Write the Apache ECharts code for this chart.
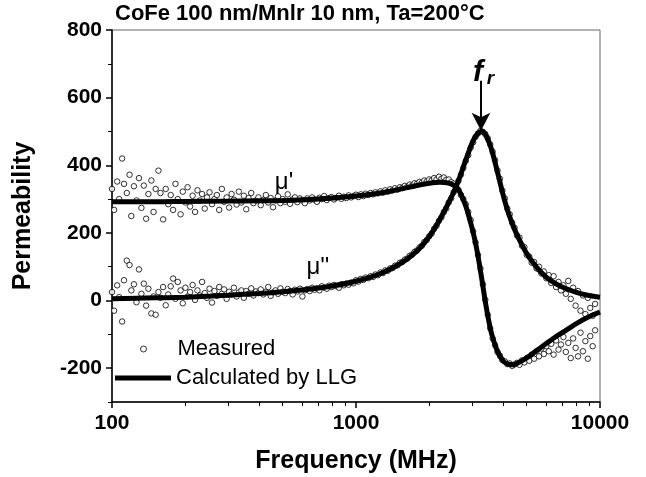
<!DOCTYPE html>
<html><head><meta charset="utf-8">
<script src="https://cdn.jsdelivr.net/npm/echarts@6/dist/echarts.min.js"></script>
<style>html,body{margin:0;padding:0;background:#fff}#c{width:646px;height:477px}</style>
</head><body><div id="c"></div>
<script>
// Measured frequencies (MHz)
const freq = [100,102,105,107,110,112,115,118,120,123,126,129,132,135,138,141,145,148,151,155,
158,162,166,170,174,178,182,186,191,195,200,204,209,214,219,224,229,234,240,245,
251,257,263,269,275,282,288,295,302,309,316,324,331,339,347,355,363,372,380,389,
398,407,417,427,437,447,457,468,479,490,501,513,525,537,550,562,575,589,603,617,
631,646,661,676,692,708,724,741,759,776,794,813,832,851,871,891,912,933,955,977,
1000,1023,1047,1072,1096,1122,1148,1175,1202,1230,1259,1288,1318,1349,1380,1413,1445,1479,1514,1549,
1585,1622,1660,1698,1738,1778,1820,1862,1905,1950,1995,2042,2089,2138,2188,2239,2291,2344,2399,2455,
2512,2570,2630,2692,2754,2818,2884,2951,3020,3090,3162,3236,3311,3388,3467,3548,3631,3715,3802,3890,
3981,4074,4169,4266,4365,4467,4571,4677,4786,4898,5012,5129,5248,5370,5495,5623,5754,5888,6026,6166,
6310,6457,6607,6761,6918,7079,7244,7413,7586,7762,7943,8128,8318,8511,8710,8913,9120,9333,9550];
// Measured mu'
const muPrimeMeasured = [330,268,352,300,420,345,318,372,250,338,
296,362,274,340,242,315,355,262,330,384,
318,240,330,285,312,268,345,300,255,322,
290,335,278,310,262,326,296,315,272,305,
320,285,300,312,268,330,292,305,275,315,
298,284,322,290,310,270,303,318,288,296,
305,282,298,312,290,303,276,296,308,288,
300,292,314,286,299,305,291,302,296,288,
302,296,305,298,292,304,300,309,297,303,
306,299,304,310,301,307,303,311,305,309,
313,306,314,309,316,312,318,314,320,317,
323,319,326,322,329,326,332,328,335,333,
339,336,343,340,347,345,351,348,355,352,
358,355,362,358,366,360,364,357,358,350,
346,336,327,312,300,285,262,238,205,172,
135,95,48,2,-42,-82,-112,-132,-152,-163,
-176,-180,-188,-186,-193,-189,-184,-190,-177,-183,
-170,-178,-160,-172,-150,-165,-142,-158,-135,-150,
-128,-160,-118,-145,-130,-108,-152,-125,-170,-112,
-140,-165,-95,-150,-120,-172,-105,-135,-88];
// Measured mu''
const muDoublePrimeMeasured = [25,-30,45,10,-62,60,118,105,30,48,
-5,92,20,50,-15,35,-38,12,-42,25,
8,40,-14,18,42,65,5,55,30,-8,
38,12,25,46,2,30,15,55,22,8,
35,-6,28,14,40,20,33,5,26,18,
38,12,24,30,8,28,20,36,15,27,
22,33,18,26,40,14,24,30,20,36,
26,22,34,28,18,32,27,35,12,30,
34,28,38,32,36,30,42,38,35,44,
40,46,42,38,48,45,50,47,53,51,
60,56,64,61,68,66,72,70,77,75,
83,81,89,88,95,96,103,104,112,114,
121,124,132,136,144,148,157,162,173,179,
190,198,212,221,236,246,262,272,290,302,
320,334,354,372,392,413,430,452,468,484,
494,502,499,492,480,462,440,415,385,360,
325,302,272,255,230,215,192,186,162,158,
135,130,112,114,95,100,80,86,66,75,
52,72,40,55,30,45,20,58,5,38,
-15,28,-30,15,-40,8,-22,-45,-10];
// LLG calculated curves
const calcFreq = [100,150,200,300,400,500,600,700,800,1000,1200,1400,1600,1800,2000,2200,2400,2600,2800,3000,
3100,3200,3300,3400,3500,3600,3800,4000,4200,4400,4600,5000,5500,6000,6500,7000,8000,9000,10000];
const muPrimeCalc = [292,292,293,294,295,296,298,300,303,309,316,324,333,341,347,350,347,333,285,210,
165,110,50,-10,-60,-100,-150,-178,-188,-190,-185,-170,-148,-128,-110,-95,-68,-48,-34];
const muDoublePrimeCalc = [5,8,10,16,21,26,31,37,43,57,74,95,120,150,190,238,290,345,410,468,
487,498,500,490,470,445,380,315,262,222,190,140,98,70,52,40,24,15,10];
// Axis ticks
const yTickLabels = [-200,0,200,400,600,800];
const yMinorTicks = [-300,-100,100,300,500,700];

const FONT = '"Liberation Sans", Arial, Helvetica, sans-serif';
const zip = (xs, ys) => xs.map((x, i) => [x, ys[i]]);
const chart = echarts.init(document.getElementById('c'), null, {renderer: 'canvas'});
const annot = (coord, text, style) => ({
  coord: coord, symbol: 'circle', symbolSize: 0,
  label: Object.assign({show: true, position: 'inside', formatter: text, color: '#000', fontFamily: FONT}, style)
});
const option = {
  animation: false,
  backgroundColor: '#fff',
  title: {
    text: 'CoFe 100 nm/Mnlr 10 nm, Ta=200\u00B0C', left: 115, top: 3, padding: 0,
    textStyle: {fontFamily: FONT, fontSize: 22, fontWeight: 'bold', color: '#000'}
  },
  grid: {left: 112, right: 46, top: 30, bottom: 75, show: true, borderColor: '#666', borderWidth: 1,
    backgroundColor: 'transparent', containLabel: false, outerBoundsMode: 'none'},
  legend: [
    {data: [{name: 'Measured', icon: 'circle'}], left: 140, top: 338, padding: 0, itemWidth: 6, itemHeight: 6,
      itemStyle: {color: '#fff', borderColor: '#000', borderWidth: 1},
      textStyle: {fontFamily: FONT, fontSize: 22, color: '#000', padding: [0, 0, 0, 26]}, selectedMode: false},
    {data: [{name: 'Calculated by LLG', icon: 'rect'}], left: 115, top: 367, padding: 0, itemWidth: 56, itemHeight: 5,
      itemStyle: {color: '#000'},
      textStyle: {fontFamily: FONT, fontSize: 22, color: '#000'}, selectedMode: false}
  ],
  xAxis: {
    type: 'log', logBase: 10, min: 100, max: 10000,
    name: 'Frequency (MHz)', nameLocation: 'middle', nameGap: 47,
    nameTextStyle: {fontFamily: FONT, fontSize: 25, fontWeight: 'bold', color: '#000'},
    axisLine: {show: true, onZero: false, lineStyle: {color: '#000', width: 1.5}},
    axisTick: {show: true, length: 6, lineStyle: {color: '#000', width: 1.5}},
    minorTick: {show: true, splitNumber: 9, length: 4, lineStyle: {color: '#000', width: 1}},
    axisLabel: {fontFamily: FONT, fontSize: 21, fontWeight: 'bold', color: '#000', margin: 11,
      formatter: v => String(v)},
    splitLine: {show: false}, minorSplitLine: {show: false}
  },
  yAxis: [
    {type: 'value', min: -300, max: 800, position: 'left',
      name: 'Permeability', nameLocation: 'middle', nameGap: 76, nameRotate: 90,
      nameTextStyle: {fontFamily: FONT, fontSize: 25, fontWeight: 'bold', color: '#000'},
      axisLine: {show: true, onZero: false, lineStyle: {color: '#000', width: 1.5}},
      axisTick: {show: true, length: 6, customValues: yTickLabels, lineStyle: {color: '#000', width: 1.5}},
      axisLabel: {customValues: yTickLabels, fontFamily: FONT, fontSize: 21, fontWeight: 'bold', color: '#000', margin: 10},
      splitLine: {show: false}},
    {type: 'value', min: -300, max: 800, position: 'left',
      axisLine: {show: false, onZero: false}, axisLabel: {show: false},
      axisTick: {show: true, length: 4, customValues: yMinorTicks, lineStyle: {color: '#000', width: 1}},
      splitLine: {show: false}}
  ],
  series: [
    {name: 'Measured', type: 'scatter', data: zip(freq, muPrimeMeasured), symbol: 'circle', symbolSize: 5.5,
      itemStyle: {color: '#fff', borderColor: '#000', borderWidth: 1}, z: 2, silent: true},
    {name: 'Measured', type: 'scatter', data: zip(freq, muDoublePrimeMeasured), symbol: 'circle', symbolSize: 5.5,
      itemStyle: {color: '#fff', borderColor: '#000', borderWidth: 1}, z: 2, silent: true},
    {name: 'Calculated by LLG', type: 'line', data: zip(calcFreq, muPrimeCalc), smooth: 0.3,
      showSymbol: false, symbol: 'none', lineStyle: {color: '#000', width: 5}, itemStyle: {color: '#000'}, z: 3, silent: true,
      markPoint: {silent: true, data: [
        annot([507, 348], "\u03BC'", {fontSize: 24}),
        annot([698, 99], "\u03BC''", {fontSize: 24}),
        annot([3162, 673], 'f', {fontSize: 30, fontWeight: 'bold', fontStyle: 'italic'}),
        annot([3560, 655], 'r', {fontSize: 19, fontWeight: 'bold', fontStyle: 'italic'})
      ]},
      markLine: {silent: true, symbol: ['none', 'arrow'], symbolSize: [14, 18],
        lineStyle: {color: '#000', width: 2, type: 'solid'}, label: {show: false},
        data: [[{coord: [3253, 650]}, {coord: [3253, 502]}]]}
    },
    {name: 'Calculated by LLG', type: 'line', data: zip(calcFreq, muDoublePrimeCalc), smooth: 0.3,
      showSymbol: false, symbol: 'none', lineStyle: {color: '#000', width: 5}, itemStyle: {color: '#000'}, z: 3, silent: true}
  ]
};
chart.setOption(option);
</script>
</body></html>
